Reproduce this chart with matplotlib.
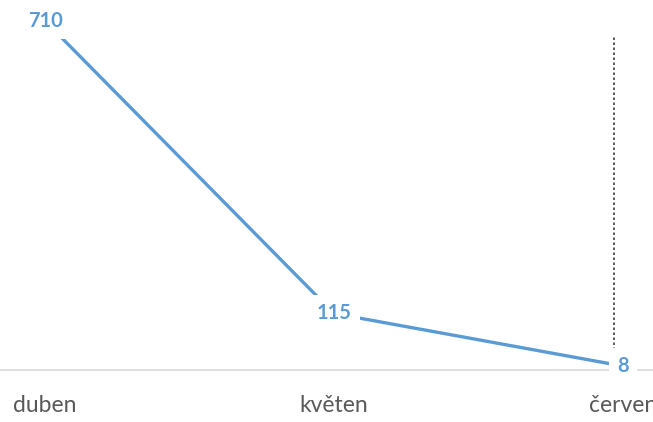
import matplotlib
matplotlib.use("Agg")
import matplotlib.pyplot as plt

months = ["duben", "květen", "červen"]
values = [710, 115, 8]
ref_line_x = 1.97
ref_line_range = (20, 682)

BLUE = "#5B9BD5"
plt.rcParams['font.family'] = ['Lato', 'DejaVu Sans']

fig = plt.figure(figsize=(6.53, 4.22), dpi=100)
ax = fig.add_axes([0, 52/422, 1, 1 - 52/422])
x = list(range(len(months)))
ax.plot(x, values, color=BLUE, lw=2.4, zorder=2, solid_capstyle='butt')
for xi, v in zip(x, values):
    ax.text(xi, v, str(v), ha='center', va='center', color=BLUE, fontsize=14.5,
            fontweight='bold', zorder=5, clip_on=False,
            bbox=dict(boxstyle='square,pad=0.4', fc='white', ec='none'))
ax.vlines(ref_line_x, *ref_line_range, colors='#404040', linestyles=(0, (1.5, 1.5)), lw=1.2, zorder=1)

ax.set_xlim(-0.156, 2.104)
ax.set_ylim(0, 752.7)
for s in ['top', 'right', 'left']:
    ax.spines[s].set_visible(False)
ax.spines['bottom'].set_color('#D9D9D9')
ax.spines['bottom'].set_linewidth(1.2)
ax.spines['bottom'].set_zorder(0.5)
ax.set_yticks([])
ax.set_xticks(x)
ax.set_xticklabels(months, fontsize=16.5, color='#595959')
ax.tick_params(axis='x', length=0, pad=18)
fig.savefig("out.png", dpi=100)
